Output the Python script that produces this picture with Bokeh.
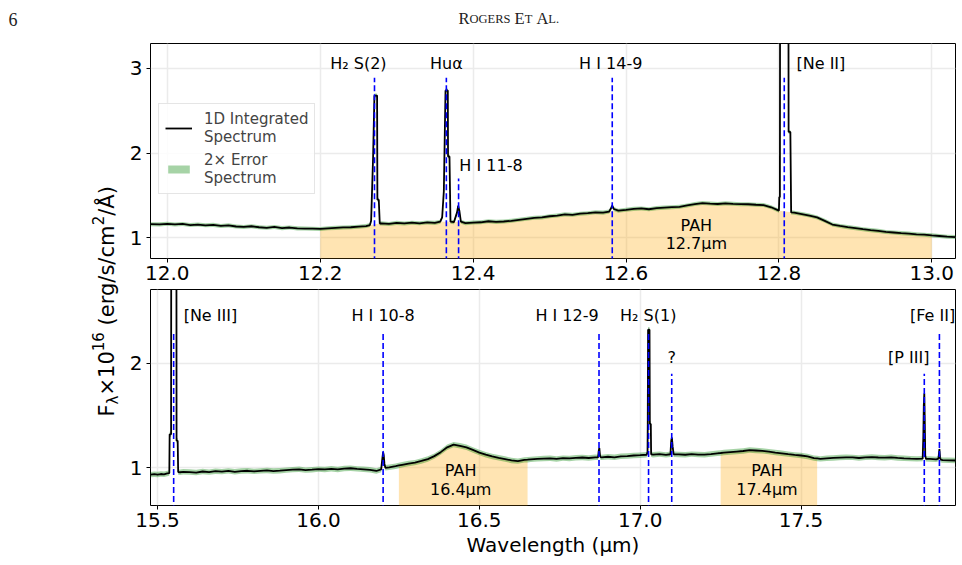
import numpy as np
from bokeh.plotting import figure
from bokeh.layouts import column, row
from bokeh.models import (Range1d, FixedTicker, Legend, LegendItem,
                          NumeralTickFormatter)
from bokeh.core.properties import value
from bokeh.embed import file_html
from bokeh.resources import INLINE

FONT = "DejaVu Sans"

# ---------------- data: upper panel (12-13 um) ----------------
top_cont_wl = [11.978, 11.99, 12.00, 12.01, 12.02, 12.03, 12.04, 12.05, 12.06, 12.07,
               12.08, 12.09, 12.10, 12.11, 12.12, 12.13, 12.14, 12.15, 12.16, 12.17,
               12.18, 12.19, 12.20, 12.21, 12.22, 12.23, 12.24, 12.25, 12.26, 12.265,
               12.2779, 12.28, 12.29, 12.30, 12.31, 12.32, 12.33, 12.34, 12.35, 12.357,
               12.3704, 12.375, 12.384, 12.39, 12.40, 12.41, 12.42, 12.43, 12.44, 12.45,
               12.46, 12.47, 12.48, 12.49, 12.50, 12.51, 12.52, 12.53, 12.54, 12.55,
               12.56, 12.57, 12.578, 12.59, 12.60, 12.61, 12.62, 12.63, 12.64, 12.65,
               12.66, 12.67, 12.68, 12.69, 12.70, 12.71, 12.72, 12.73, 12.74, 12.75,
               12.76, 12.77, 12.78, 12.79, 12.80, 12.8168, 12.82, 12.83, 12.84, 12.85,
               12.86, 12.87, 12.88, 12.89, 12.90, 12.91, 12.92, 12.93, 12.94, 12.95,
               12.96, 12.97, 12.98, 12.99, 13.00, 13.01, 13.02, 13.031]
top_cont_fx = [1.160, 1.158, 1.165, 1.157, 1.163, 1.150, 1.156, 1.147, 1.152, 1.140,
               1.146, 1.133, 1.128, 1.136, 1.124, 1.118, 1.128, 1.114, 1.121, 1.111,
               1.109, 1.107, 1.104, 1.112, 1.117, 1.122, 1.124, 1.131, 1.138, 1.150,
               1.168, 1.170, 1.163, 1.176, 1.169, 1.178, 1.171, 1.181, 1.176, 1.190,
               1.190, 1.185, 1.190, 1.172, 1.180, 1.183, 1.195, 1.188, 1.192, 1.200,
               1.212, 1.224, 1.236, 1.240, 1.254, 1.262, 1.276, 1.271, 1.284, 1.290,
               1.301, 1.297, 1.310, 1.320, 1.330, 1.341, 1.346, 1.337, 1.350, 1.356,
               1.361, 1.366, 1.382, 1.398, 1.410, 1.404, 1.399, 1.406, 1.401, 1.397,
               1.396, 1.390, 1.386, 1.360, 1.320, 1.300, 1.296, 1.280, 1.262, 1.240,
               1.200, 1.156, 1.140, 1.126, 1.114, 1.101, 1.090, 1.081, 1.069, 1.062,
               1.055, 1.049, 1.041, 1.036, 1.028, 1.021, 1.013, 1.008]
# emission-line profile points (upper panel)
top_peak_wl = [12.2666, 12.2692, 12.2709, 12.2744, 12.2748, 12.2766,
               12.3595, 12.3617, 12.3639, 12.3669, 12.3672, 12.3691,
               12.379, 12.3805, 12.382,
               12.5805, 12.582, 12.584,
               12.8005, 12.8013, 12.8015, 12.8125, 12.8127, 12.8150, 12.8160]
top_peak_fx = [1.20, 1.96, 2.68, 2.68, 1.45, 1.45,
               1.24, 1.55, 2.74, 2.74, 1.96, 1.96,
               1.30, 1.38, 1.32,
               1.35, 1.38, 1.34,
               1.48, 1.48, 3.60, 3.60, 2.25, 2.25, 1.30]
top_err = 0.012
top_pah_lo = [12.2]
top_pah_hi = [13.0]
top_pah_x = [12.692]
top_pah_name = ["12.7μm"]

top_lab_txt = ["H₂ S(2)", "Huα", "H I 11-8", "H I 14-9", "[Ne II]"]
top_lab_x = [12.250, 12.365, 12.382, 12.580, 12.823]
top_lab_y = [3.064, 3.064, 1.855, 3.064, 3.064]
top_lab_align = ["center", "center", "left", "center", "left"]
top_line_x = [12.271, 12.365, 12.381, 12.582, 12.807]
top_line_top = [2.89, 2.89, 1.70, 2.89, 2.89]

# ---------------- data: lower panel (15.5-18 um) ----------------
bot_cont_wl = [15.478, 15.49, 15.50, 15.51, 15.52, 15.53, 15.564, 15.57, 15.58, 15.60,
               15.62, 15.64, 15.66, 15.68, 15.70, 15.72, 15.74, 15.76, 15.78, 15.80,
               15.82, 15.84, 15.86, 15.88, 15.90, 15.92, 15.94, 15.96, 15.98, 16.00,
               16.02, 16.04, 16.06, 16.08, 16.10, 16.12, 16.14, 16.16, 16.18, 16.195,
               16.208, 16.22, 16.24, 16.25, 16.26, 16.28, 16.30, 16.32, 16.34, 16.36,
               16.38, 16.40, 16.42, 16.44, 16.46, 16.48, 16.50, 16.52, 16.54, 16.56,
               16.58, 16.60, 16.62, 16.64, 16.65, 16.66, 16.68, 16.70, 16.72, 16.74,
               16.76, 16.78, 16.80, 16.82, 16.84, 16.86, 16.869, 16.877, 16.88, 16.90,
               16.92, 16.94, 16.96, 16.98, 17.00, 17.02, 17.034, 17.04, 17.06, 17.08,
               17.094, 17.104, 17.12, 17.14, 17.16, 17.18, 17.20, 17.22, 17.24, 17.25,
               17.26, 17.28, 17.30, 17.32, 17.34, 17.36, 17.38, 17.40, 17.42, 17.44,
               17.46, 17.48, 17.50, 17.52, 17.54, 17.55, 17.56, 17.58, 17.60, 17.62,
               17.64, 17.66, 17.68, 17.70, 17.72, 17.74, 17.76, 17.78, 17.80, 17.82,
               17.84, 17.86, 17.878, 17.888, 17.90, 17.92, 17.927, 17.934, 17.94, 17.96,
               17.98]
bot_cont_fx = [0.935, 0.939, 0.936, 0.941, 0.938, 0.946, 0.960, 0.958, 0.962, 0.960,
               0.955, 0.965, 0.959, 0.968, 0.964, 0.971, 0.962, 0.969, 0.972, 0.966,
               0.971, 0.975, 0.969, 0.973, 0.978, 0.983, 0.986, 0.978, 0.982, 0.988,
               0.985, 0.991, 0.985, 0.993, 0.996, 0.990, 0.986, 0.981, 0.970, 0.985,
               1.000, 1.005, 1.016, 1.023, 1.029, 1.041, 1.050, 1.066, 1.084, 1.112,
               1.150, 1.196, 1.222, 1.211, 1.196, 1.171, 1.146, 1.126, 1.109, 1.096,
               1.084, 1.071, 1.064, 1.076, 1.078, 1.081, 1.086, 1.089, 1.091, 1.085,
               1.093, 1.090, 1.096, 1.099, 1.094, 1.101, 1.100, 1.102, 1.100, 1.106,
               1.101, 1.110, 1.113, 1.118, 1.121, 1.125, 1.130, 1.126, 1.131, 1.124,
               1.130, 1.130, 1.128, 1.125, 1.131, 1.127, 1.126, 1.132, 1.139, 1.142,
               1.146, 1.151, 1.156, 1.161, 1.170, 1.166, 1.162, 1.155, 1.146, 1.139,
               1.131, 1.124, 1.118, 1.109, 1.093, 1.090, 1.086, 1.091, 1.095, 1.098,
               1.101, 1.100, 1.094, 1.100, 1.103, 1.099, 1.097, 1.101, 1.095, 1.091,
               1.088, 1.086, 1.088, 1.086, 1.085, 1.081, 1.088, 1.078, 1.074, 1.072,
               1.070]
bot_peak_wl = [15.5365, 15.5375, 15.542, 15.5425, 15.5585, 15.559, 15.5625,
               16.199, 16.201, 16.203, 16.205,
               16.871, 16.873, 16.875,
               17.0228, 17.0235, 17.0245, 17.0290, 17.0300, 17.0330,
               17.0965, 17.0985, 17.101,
               17.880, 17.8815, 17.883, 17.8845, 17.886,
               17.929, 17.930, 17.932]
bot_peak_fx = [0.950, 1.32, 1.32, 3.50, 3.50, 1.26, 1.26,
               1.10, 1.15, 1.12, 1.04,
               1.16, 1.19, 1.12,
               1.15, 1.42, 2.32, 2.32, 1.42, 1.42,
               1.26, 1.29, 1.20,
               1.30, 1.60, 1.71, 1.45, 1.12,
               1.15, 1.18, 1.10]
bot_err = 0.013
bot_pah_lo = [16.25, 17.25]
bot_pah_hi = [16.65, 17.55]
bot_pah_x = [16.442, 17.394]
bot_pah_name = ["16.4μm", "17.4μm"]

bot_lab_txt = ["[Ne III]", "H I 10-8", "H I 12-9", "H₂ S(1)", "?", "[P III]", "[Fe II]"]
bot_lab_x = [15.581, 16.201, 16.871, 17.025, 17.098, 17.899, 17.979]
bot_lab_y = [2.455, 2.455, 2.455, 2.455, 2.054, 2.054, 2.455]
bot_lab_align = ["left", "center", "right", "center", "center", "right", "right"]
bot_line_x = [15.550, 16.201, 16.872, 17.026, 17.098, 17.883, 17.930]
bot_line_top = [2.29, 2.29, 2.29, 2.29, 1.90, 1.90, 2.29]

top_xticks = [12.0, 12.2, 12.4, 12.6, 12.8, 13.0]
top_yticks = [1, 2, 3]
bot_xticks = [15.5, 16.0, 16.5, 17.0, 17.5]
bot_yticks = [1, 2]


def style_axes(p, xticks, yticks):
    p.outline_line_color = "black"
    p.outline_line_width = 1
    p.xaxis.ticker = FixedTicker(ticks=xticks)
    p.yaxis.ticker = FixedTicker(ticks=yticks)
    p.xaxis.formatter = NumeralTickFormatter(format="0.0")
    p.yaxis.formatter = NumeralTickFormatter(format="0")
    for ax in (p.xaxis[0], p.yaxis[0]):
        ax.axis_line_color = None
        ax.major_tick_out = 4
        ax.major_tick_in = 0
        ax.minor_tick_out = 0
        ax.minor_tick_in = 0
        ax.major_tick_line_color = "black"
        ax.major_label_text_font = FONT
        ax.major_label_text_font_size = "20px"
        ax.major_label_text_color = "black"
    p.xaxis.major_label_standoff = 3
    p.yaxis.major_label_standoff = 4
    p.grid.grid_line_color = "#ebebeb"
    p.grid.grid_line_width = 1.5
    p.background_fill_color = "white"
    p.border_fill_color = "white"


def build_panel(height, bborder, xr, yr, cont_wl, cont_fx, peak_wl, peak_fx, err,
                pah_lo, pah_hi, pah_x, pah_name, pah_y,
                lab_txt, lab_x, lab_y, lab_align, line_x, line_top, xticks, yticks):
    p = figure(width=837, height=height, x_range=Range1d(*xr), y_range=Range1d(*yr),
               output_backend="svg", toolbar_location=None,
               min_border_left=25, min_border_right=7, min_border_top=0,
               min_border_bottom=bborder)
    style_axes(p, xticks, yticks)

    cw = np.array(cont_wl)
    cf = np.array(cont_fx)
    wl = np.concatenate([cw, np.array(peak_wl)])
    fx = np.concatenate([cf, np.array(peak_fx)])
    order = np.argsort(wl)
    wl, fx = wl[order], fx[order]

    # PAH shaded regions (under the continuum)
    for lo, hi in zip(pah_lo, pah_hi):
        m = (cw >= lo) & (cw <= hi)
        p.varea(x=cw[m], y1=yr[0] - 1, y2=cf[m], fill_color="orange", fill_alpha=0.3)

    err_r = p.varea(x=wl, y1=fx - 2 * err, y2=fx + 2 * err,
                    fill_color="green", fill_alpha=0.35)
    spec_r = p.line(x=wl, y=fx, line_color="black", line_width=1.8)

    p.segment(x0=line_x, y0=[yr[0] - 1] * len(line_x), x1=line_x, y1=line_top,
              line_color="#0000ff", line_width=1.6, line_dash="6 3")

    for t, x, y, a in zip(lab_txt, lab_x, lab_y, lab_align):
        p.text(x=[x], y=[y], text=[t], text_font=value(FONT), text_font_size="16px",
               text_align=a, text_baseline="middle", text_color="black")
    for x, name in zip(pah_x, pah_name):
        p.text(x=[x, x], y=pah_y, text=["PAH", name], text_font=value(FONT),
               text_font_size="16px", text_align="center", text_baseline="middle",
               text_color="black")
    return p, spec_r, err_r


top, spec_top, err_top = build_panel(
    246, 31, (11.978, 13.031), (0.755, 3.295),
    top_cont_wl, top_cont_fx, top_peak_wl, top_peak_fx, top_err,
    top_pah_lo, top_pah_hi, top_pah_x, top_pah_name, [1.145, 0.93],
    top_lab_txt, top_lab_x, top_lab_y, top_lab_align, top_line_x, top_line_top,
    top_xticks, top_yticks)

bot, _, _ = build_panel(
    276, 60, (15.478, 17.98), (0.64, 2.705),
    bot_cont_wl, bot_cont_fx, bot_peak_wl, bot_peak_fx, bot_err,
    bot_pah_lo, bot_pah_hi, bot_pah_x, bot_pah_name, [0.975, 0.79],
    bot_lab_txt, bot_lab_x, bot_lab_y, bot_lab_align, bot_line_x, bot_line_top,
    bot_xticks, bot_yticks)
bot.xaxis.axis_label = "Wavelength (μm)"
bot.xaxis.axis_label_text_font = FONT
bot.xaxis.axis_label_text_font_size = "20px"
bot.xaxis.axis_label_text_font_style = "normal"
bot.xaxis.axis_label_text_color = "black"
bot.xaxis.axis_label_standoff = 3

legend = Legend(items=[LegendItem(label="1D Integrated\nSpectrum", renderers=[spec_top]),
                       LegendItem(label="2× Error\nSpectrum", renderers=[err_top])],
                location=(8, 64))
legend.label_text_font = FONT
legend.label_text_font_size = "15px"
legend.label_text_line_height = 1.15
legend.glyph_width = 27
legend.glyph_height = 10
legend.label_standoff = 12
legend.padding = 6
legend.spacing = 5
legend.margin = 0
legend.border_line_color = "#cccccc"
legend.border_line_width = 1
legend.background_fill_alpha = 0.85
top.add_layout(legend)

# ---------------- header (page number + running title) ----------------
head = figure(width=962, height=43, x_range=Range1d(0, 962), y_range=Range1d(0, 43),
              output_backend="svg", toolbar_location=None, min_border=0)
head.axis.visible = False
head.grid.visible = False
head.outline_line_color = None
SERIF = "Liberation Serif"
head.text(x=[8], y=[24], text=["6"], text_font=value(SERIF), text_font_size="18px",
          text_baseline="alphabetic", text_align="left", text_color="#222222")
title_parts = ["R", "OGERS", "E", "T", "A", "L."]
title_x = [458, 469, 514.1, 524.2, 535.9, 547.8]
title_size = ["16.5px", "12.5px", "16.5px", "12.5px", "16.5px", "12.5px"]
for t, x, s in zip(title_parts, title_x, title_size):
    head.text(x=[x], y=[25], text=[t], text_font=value(SERIF), text_font_size=s,
              text_baseline="alphabetic", text_align="left", text_color="#222222")

# ---------------- shared y-axis label ----------------
ylab = figure(width=125, height=522, x_range=Range1d(0, 125), y_range=Range1d(0, 522),
              output_backend="svg", toolbar_location=None, min_border=0)
ylab.axis.visible = False
ylab.grid.visible = False
ylab.outline_line_color = None
ypieces = ["F", "λ", "×10", "16", "(erg/s/cm", "2", "/Å)"]
ypos = [149, 161.1, 170.0, 214.3, 240.1, 340.2, 349.7]
xbase = [106, 112, 106, 97, 106, 97, 106]
ysize = ["21px", "15px", "21px", "15px", "21px", "15px", "21px"]
for t, yy, xx, s in zip(ypieces, ypos, xbase, ysize):
    ylab.text(x=[xx], y=[yy], text=[t], angle=np.pi / 2, text_font=value(FONT),
              text_font_size=s, text_baseline="alphabetic", text_align="left",
              text_color="black")

layout = column(head, row(ylab, column(top, bot)))
open("out.html", "w").write(file_html(layout, INLINE))
